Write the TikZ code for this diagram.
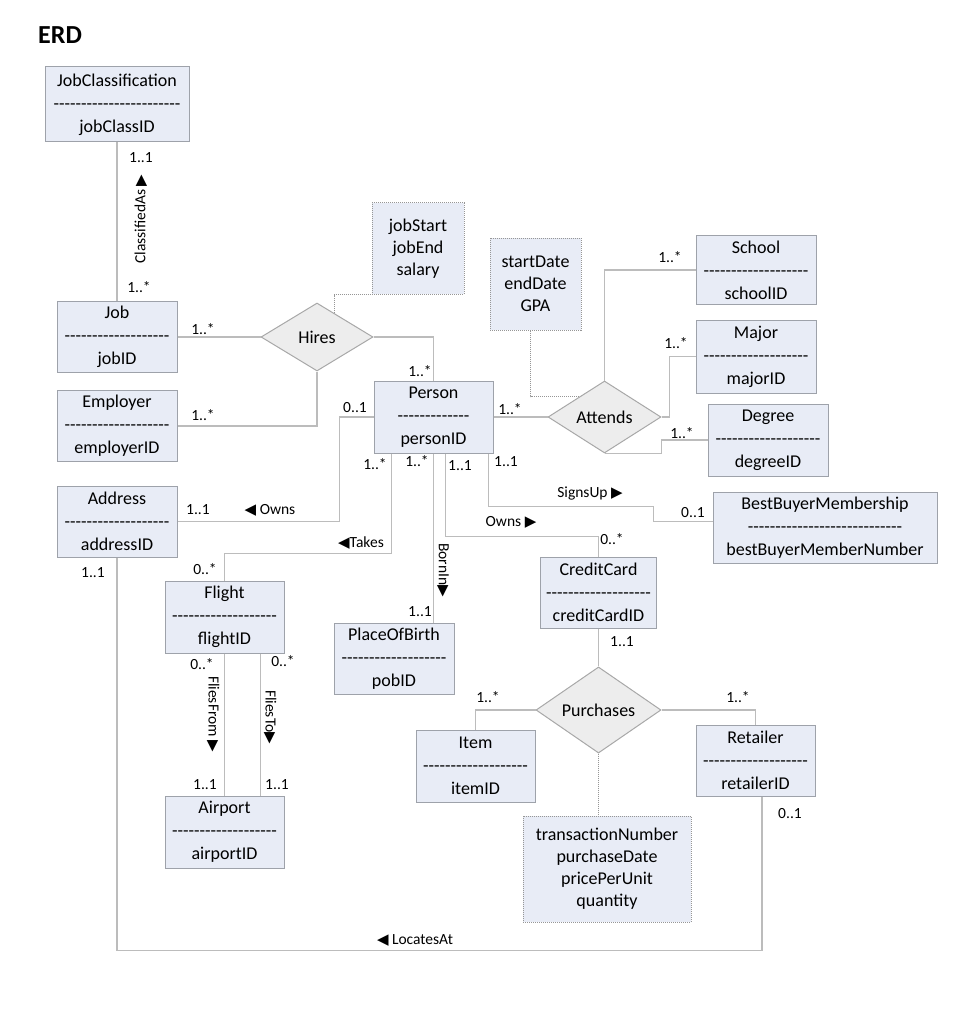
\documentclass[tikz,border=0pt]{standalone}
\usepackage{fontspec}
\setmainfont{Carlito}
\newfontfamily\symfont{DejaVu Sans}
\usetikzlibrary{shapes.geometric}

\definecolor{boxfill}{RGB}{232,236,246}
\definecolor{boxline}{RGB}{158,162,170}
\definecolor{linkgray}{RGB}{188,188,188}
\definecolor{diafill}{RGB}{237,237,237}
\definecolor{dialine}{RGB}{168,168,168}
\definecolor{attrline}{RGB}{150,150,150}

\newcommand{\dashrow}[1]{\foreach \k in {1,...,#1}{-\kern0pt}}
\newcommand{\tri}[1]{{\symfont\fontsize{15}{15}\selectfont #1}}

\begin{document}
\begin{tikzpicture}[x=1pt,y=-1pt,
		entity box/.style={rectangle,draw=boxline,fill=boxfill,line width=1pt,minimum width=120pt,minimum height=71pt,inner sep=0pt,align=center,font=\fontsize{18}{23}\selectfont},
		relation node/.style={diamond,draw=dialine,fill=diafill,line width=1pt,inner sep=0pt,font=\fontsize{18}{23}\selectfont},
		attr box/.style={rectangle,draw=attrline,densely dotted,fill=boxfill,line width=1pt,inner sep=0pt,align=center,font=\fontsize{18}{22}\selectfont},
		card/.style={inner sep=0pt,font=\fontsize{15.5}{16}\selectfont},
		link/.style={draw=linkgray,line width=1.2pt},
		attr link/.style={draw=attrline,densely dotted,line width=1pt}]

		\useasboundingbox (0,0) rectangle (978,1024);
		\node[anchor=base west,inner sep=0pt,font=\fontsize{26}{26}\selectfont\bfseries] (title) at (38,44) {ERD};

		% entities
		\node[entity box,minimum width=144pt,minimum height=75pt] (jobclass) at (117,104.5) {JobClassification\\\dashrow{23}\\jobClassID};
		\node[entity box] (job) at (117,337) {Job\\\dashrow{19}\\jobID};
		\node[entity box] (employer) at (117,426) {Employer\\\dashrow{19}\\employerID};
		\node[entity box] (address) at (117,521.5) {Address\\\dashrow{19}\\addressID};
		\node[entity box,minimum width=119pt,minimum height=72pt] (person) at (433.5,417) {Person\\\dashrow{13}\\personID};
		\node[entity box,minimum width=119pt,minimum height=72pt] (flight) at (224.5,617) {Flight\\\dashrow{19}\\flightID};
		\node[entity box,minimum width=119pt,minimum height=72pt] (airport) at (224.5,832) {Airport\\\dashrow{19}\\airportID};
		\node[entity box] (pob) at (394,658.5) {PlaceOfBirth\\\dashrow{19}\\pobID};
		\node[entity box,minimum height=69pt] (school) at (756,270) {School\\\dashrow{19}\\schoolID};
		\node[entity box,minimum height=73pt] (major) at (756,356.5) {Major\\\dashrow{19}\\majorID};
		\node[entity box,minimum height=72pt] (degree) at (768,440) {Degree\\\dashrow{19}\\degreeID};
		\node[entity box,minimum width=224pt] (bestbuyer) at (825,527.5) {BestBuyerMembership\\\dashrow{28}\\bestBuyerMemberNumber};
		\node[entity box,minimum width=116pt] (creditcard) at (598.5,592.5) {CreditCard\\\dashrow{19}\\creditCardID};
		\node[entity box,minimum width=119pt,minimum height=72pt] (item) at (475.5,766) {Item\\\dashrow{19}\\itemID};
		\node[entity box,minimum width=119pt] (retailer) at (755.5,760.5) {Retailer\\\dashrow{19}\\retailerID};

		% relationships and their attributes
		\node[relation node,minimum width=112pt,minimum height=68pt] (hires) at (317,337) {Hires};
		\node[relation node,minimum width=113pt,minimum height=72pt] (attends) at (604.5,417) {Attends};
		\node[relation node,minimum width=125pt,minimum height=72pt] (purchases) at (598.5,710) {Purchases};
		\node[attr box,minimum width=92pt,minimum height=91pt] (hiresattr) at (418,248.5) {jobStart\\jobEnd\\salary};
		\node[attr box,minimum width=91pt,minimum height=92pt] (attendsattr) at (535.5,284) {startDate\\endDate\\GPA};
		\node[attr box,minimum width=168pt,minimum height=106pt] (purchattr) at (607,869) {transactionNumber\\purchaseDate\\pricePerUnit\\quantity};

		% connectors
		\draw[link] (jobclass) -- (job);
		\draw[link] (job) -- (hires);
		\draw[link] (hires.east) -| (person.north);
		\draw[link] (hires.south) |- (employer.east);
		\draw[attr link] (hires.54) |- (hiresattr.south west);
		\draw[link] (person.west) -- ++(-34pt,0pt) |- (address.east);
		\draw[link] ([xshift=18pt]person.south west) -- ++(0pt,-100pt) -| (flight.north);
		\draw[link] (person.south) -- (person.south |- pob.north);
		\draw[link] ([xshift=12pt]person.south) -- ++(0pt,-83pt) -| (creditcard.north);
		\draw[link] ([xshift=-5pt]person.south east) -- ++(0pt,-53pt) -| ([xshift=-59pt,yshift=6pt]bestbuyer.west) -- ([yshift=6pt]bestbuyer.west);
		\draw[link] (person) -- (attends);
		\draw[link] (attends.north) |- (school.west);
		\draw[link] (attends.east) -- ++(8pt,0pt) |- (major.west);
		\draw[link] (attends.south) -| (attends.east |- degree.west) -- (degree.west);
		\draw[attr link] ([xshift=-5pt]attendsattr.south) |- (attends.142);
		\draw[link] (flight) -- (airport);
		\draw[link] ([xshift=36pt]flight.south) -- ([xshift=36pt]airport.north);
		\draw[link] (address.south) -- ++(0pt,-393pt) -| ([xshift=6.5pt]retailer.south);
		\draw[link] (creditcard) -- (purchases);
		\draw[link] (purchases.west) -| (item.north);
		\draw[link] (purchases.east) -| (retailer.north);
		\draw[attr link] (purchases.south) -- (purchases.south |- purchattr.north);

		% multiplicities and role names
		\node[card] (c1) at (141,158) {1..1};
		\node[card,rotate=90] (r1) at (141,219) {ClassifiedAs \tri{▶}};
		\node[card] (c2) at (139,287) {1..*};
		\node[card] (c3) at (203,329) {1..*};
		\node[card] (c4) at (203,415) {1..*};
		\node[card] (c5) at (420,371) {1..*};
		\node[card] (c6) at (355,408) {0..1};
		\node[card] (c7) at (198,510) {1..1};
		\node[card] (r2) at (270,510) {\tri{◀} Owns};
		\node[card] (c8) at (93,573) {1..1};
		\node[card] (c9) at (375,464) {1..*};
		\node[card] (r3) at (361,543) {\tri{◀}Takes};
		\node[card] (c10) at (205,569) {0..*};
		\node[card] (c11) at (202,664) {0..*};
		\node[card] (c12) at (283,661) {0..*};
		\node[card,rotate=-90] (r4) at (213,714) {FliesFrom \tri{▶}};
		\node[card,rotate=-90] (r5) at (270,717) {FliesTo\tri{▶}};
		\node[card] (c13) at (205,785) {1..1};
		\node[card] (c14) at (277,785) {1..1};
		\node[card] (c15) at (417,461) {1..*};
		\node[card,rotate=-90] (r6) at (443,570) {BornIn\tri{▶}};
		\node[card] (c16) at (420,612) {1..1};
		\node[card] (c17) at (460,466) {1..1};
		\node[card] (r7) at (511,522) {Owns \tri{▶}};
		\node[card] (c18) at (612,539) {0..*};
		\node[card] (c19) at (506,462) {1..1};
		\node[card] (r8) at (590,493) {SignsUp \tri{▶}};
		\node[card] (c20) at (693,513) {0..1};
		\node[card] (c21) at (510,409) {1..*};
		\node[card] (c22) at (670,257) {1..*};
		\node[card] (c23) at (676,343) {1..*};
		\node[card] (c24) at (682,433) {1..*};
		\node[card] (c25) at (622,642) {1..1};
		\node[card] (c26) at (488,697) {1..*};
		\node[card] (c27) at (738,697) {1..*};
		\node[card] (c28) at (790,814) {0..1};
		\node[card] (r9) at (415,940) {\tri{◀} LocatesAt};
\end{tikzpicture}
\end{document}
